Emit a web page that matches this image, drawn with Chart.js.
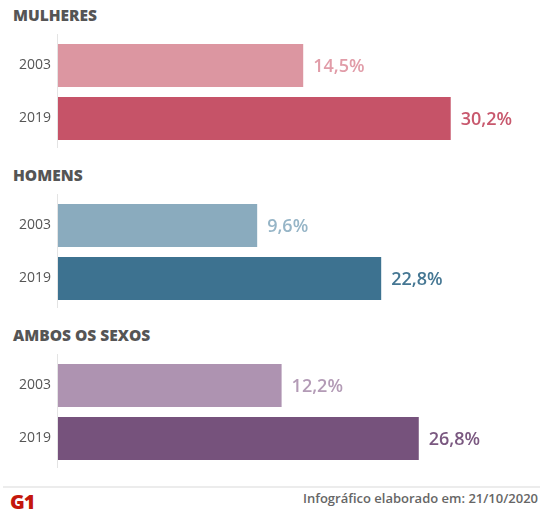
<!DOCTYPE html>
<html>
<head>
<meta charset="utf-8">
<script src="https://cdn.jsdelivr.net/npm/chart.js@4"></script>
<style>
  html, body { margin: 0; padding: 0; background: #fff; }
  #wrap { position: relative; width: 540px; height: 511px; overflow: hidden; font-family: "Open Sans", sans-serif; }
  .hdr { position: absolute; left: 13px; font-size: 15.5px; line-height: 20px; font-weight: 800; color: #555; }
  .grp { position: absolute; left: 0; width: 540px; height: 116px; }
  #rule { position: absolute; left: 3px; right: 0; top: 486px; height: 2px; background: #ececec; }
  #logo { position: absolute; left: 10px; top: 492px; font-size: 20px; line-height: 20px; font-weight: 800; color: #c4170c; letter-spacing: -1px; }
  #credit { position: absolute; right: 2px; top: 490px; font-size: 13px; line-height: 16px; font-weight: 600; color: #666; }
</style>
</head>
<body>
<div id="wrap">
  <div class="hdr" id="h0" style="top:5px"></div>
  <div class="grp" style="top:34px"><canvas id="c0" width="540" height="116"></canvas></div>
  <div class="hdr" id="h1" style="top:165px"></div>
  <div class="grp" style="top:194px"><canvas id="c1" width="540" height="116"></canvas></div>
  <div class="hdr" id="h2" style="top:325px"></div>
  <div class="grp" style="top:354px"><canvas id="c2" width="540" height="116"></canvas></div>
  <div id="rule"></div>
  <div id="logo">G1</div>
  <div id="credit">Infográfico elaborado em: 21/10/2020</div>
</div>
<script>
// ---- data ----
const groupTitles = ['MULHERES', 'HOMENS', 'AMBOS OS SEXOS'];
const years = ['2003', '2019'];
const mulheres = [14.5, 30.2];
const homens = [9.6, 22.8];
const ambos = [12.2, 26.8];

// ---- styling / layout ----
const axisMin = -11.6;
const axisMax = 38;
const barColors = [
  ['#dc96a1', '#c65368'],
  ['#8aabbe', '#3d7290'],
  ['#ae93b1', '#76527c']
];
const labelColors = [
  ['#e19ca8', '#c8586d'],
  ['#96b5c7', '#457793'],
  ['#b39bb6', '#7a5880']
];

const axisLine = {
  id: 'axisLine',
  beforeDatasetsDraw(chart) {
    const ctx = chart.ctx;
    const x = Math.round(chart.chartArea.left) - 0.5;
    ctx.save();
    ctx.strokeStyle = '#e4e4e4';
    ctx.lineWidth = 1;
    ctx.beginPath();
    ctx.moveTo(x, 0);
    ctx.lineTo(x, chart.height - 2);
    ctx.stroke();
    ctx.restore();
  }
};

const valueLabels = {
  id: 'valueLabels',
  afterDatasetsDraw(chart) {
    const ctx = chart.ctx;
    const ds = chart.data.datasets[0];
    const meta = chart.getDatasetMeta(0);
    ctx.save();
    ctx.font = '600 18px "Open Sans"';
    ctx.textAlign = 'left';
    ctx.textBaseline = 'middle';
    meta.data.forEach((el, i) => {
      ctx.fillStyle = ds.labelColors[i];
      const txt = ds.data[i].toFixed(1).replace('.', ',') + '%';
      ctx.fillText(txt, el.x + 10, el.y + 1);
    });
    ctx.restore();
  }
};

function makeChart(idx, values) {
  document.getElementById('h' + idx).textContent = groupTitles[idx];
  new Chart(document.getElementById('c' + idx), {
    type: 'bar',
    data: {
      labels: years,
      datasets: [{
        data: values,
        backgroundColor: barColors[idx],
        labelColors: labelColors[idx],
        base: axisMin,
        borderWidth: 0,
        barPercentage: 0.81,
        categoryPercentage: 1
      }]
    },
    options: {
      indexAxis: 'y',
      responsive: false,
      animation: false,
      layout: { padding: { top: 5, bottom: 5, left: 0, right: 16 } },
      plugins: { legend: { display: false }, tooltip: { enabled: false } },
      scales: {
        x: { min: axisMin, max: axisMax, display: false },
        y: {
          grid: { display: false, drawTicks: false },
          border: { display: false },
          ticks: { padding: 7, color: '#555', font: { family: 'Open Sans', size: 14 } },
          afterFit(scale) { scale.width = 58; scale.paddingTop = 0; scale.paddingBottom = 0; }
        }
      }
    },
    plugins: [axisLine, valueLabels]
  });
}

makeChart(0, mulheres);
makeChart(1, homens);
makeChart(2, ambos);
</script>
</body>
</html>
